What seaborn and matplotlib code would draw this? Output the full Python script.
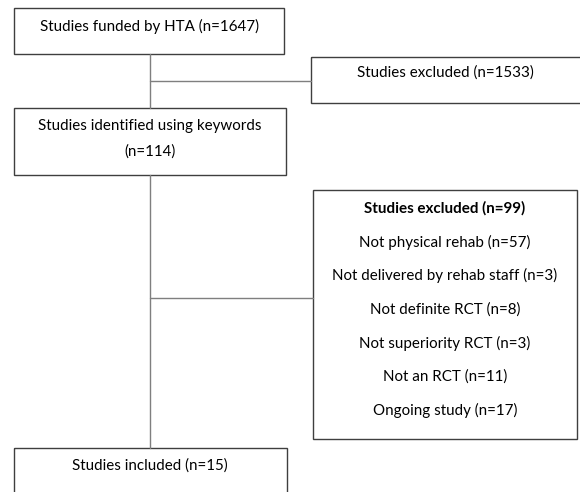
import matplotlib
matplotlib.use("Agg")
import matplotlib.pyplot as plt
import seaborn as sns
import pandas as pd
from matplotlib.patches import Rectangle

# ---- data ----
main_labels = ["Studies funded by HTA (n=1647)",
               "Studies identified using keywords\n(n=114)",
               "Studies included (n=15)"]
excl1_label = "Studies excluded (n=1533)"
excl2_title = "Studies excluded (n=99)"
excl2_reasons = ["Not physical rehab (n=57)",
                 "Not delivered by rehab staff (n=3)",
                 "Not definite RCT (n=8)",
                 "Not superiority RCT (n=3)",
                 "Not an RCT (n=11)",
                 "Ongoing study (n=17)"]

sns.set_theme(style="white")
plt.rcParams['font.family'] = ['Lato', 'DejaVu Sans']

fig = plt.figure(figsize=(5.8, 4.92), dpi=100)
ax = fig.add_axes([0, 0, 1, 1])

edge = "#3f3f3f"
conn = "#7f7f7f"
fs = 10.9

def box(x0, y0, x1, y1):
    ax.add_patch(Rectangle((x0, y0), x1 - x0, y1 - y0, fill=False,
                           edgecolor=edge, linewidth=1.0, clip_on=False))

# connectors via seaborn
segs = pd.DataFrame({
    "x": [150, 150, 150, 311, 150, 150, 150, 313],
    "y": [54, 108, 81, 81, 175, 448, 298, 298],
    "seg": [0, 0, 1, 1, 2, 2, 3, 3],
})
sns.lineplot(data=segs, x="x", y="y", units="seg", estimator=None,
             color=conn, linewidth=1.0, ax=ax, sort=False, legend=False)
ax.set_xlim(0, 580)
ax.set_ylim(492, 0)
ax.axis("off")

# boxes
box(14, 8, 284, 54)
ax.text(149, 26, main_labels[0], ha="center", va="center", fontsize=fs, color="black")

box(311, 57, 582, 103)
ax.text(445, 73, excl1_label, ha="center", va="center", fontsize=fs, color="black")

box(14, 108, 286, 175)
ax.text(150, 139, main_labels[1], ha="center", va="center", fontsize=fs,
        color="black", linespacing=1.95)

box(313, 190, 577, 439)
ax.text(445, 208, excl2_title, ha="center", va="center", fontsize=fs,
        color="black", fontweight="bold")
for i, r in enumerate(excl2_reasons):
    ax.text(445, 242 + 33.7 * i, r, ha="center", va="center", fontsize=fs, color="black")

box(14, 448, 287, 510)
ax.text(150, 466, main_labels[2], ha="center", va="center", fontsize=fs, color="black")

fig.savefig("out.png", dpi=100)
